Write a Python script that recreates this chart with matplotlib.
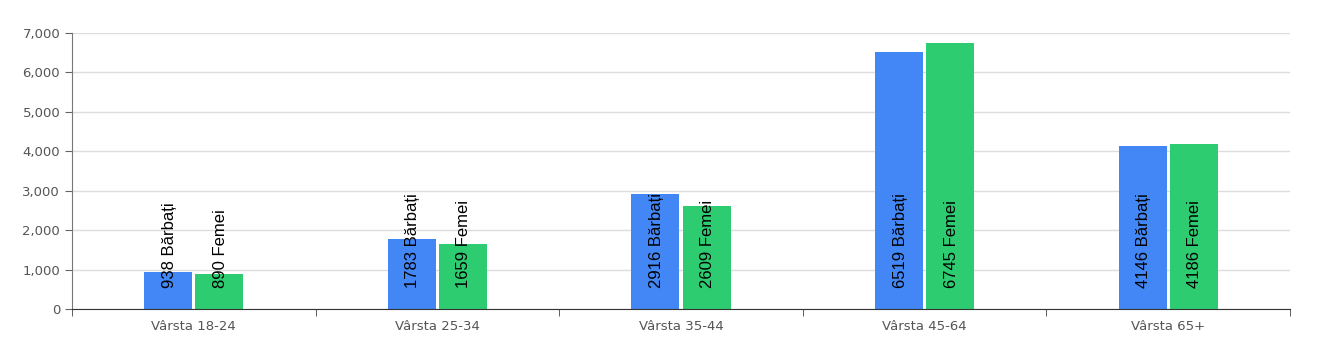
import numpy as np
from matplotlib import pyplot as plt

categorii = ["Vârsta 18-24", "Vârsta 25-34", "Vârsta 35-44", "Vârsta 45-64", "Vârsta 65+"]
barbati = [938, 1783, 2916, 6519, 4146]
femei = [890, 1659, 2609, 6745, 4186]

fig = plt.figure(figsize=(13.3, 3.47), dpi=100)
ax = fig.add_axes([72/1330, 1 - 309/347, (1290-72)/1330, (309-33)/347])

x = np.arange(len(categorii))
w = 0.197
b1 = ax.bar(x - 0.105, barbati, w, color="#4287f5", zorder=2)
b2 = ax.bar(x + 0.105, femei, w, color="#2ecc71", zorder=2)

for bars, vals, nume in ((b1, barbati, "Bărbați"), (b2, femei, "Femei")):
    for r, v in zip(bars, vals):
        ax.annotate(f"{v} {nume}", xy=(r.get_x() + r.get_width()/2, 0),
                    xytext=(1, 21), textcoords="offset pixels",
                    rotation=90, ha="center", va="bottom",
                    fontsize=12, family="Liberation Sans", color="black", zorder=3)

ax.set_xlim(-0.5, len(categorii) - 0.5)
ax.set_ylim(0, 7000)
ax.set_yticks(range(0, 7001, 1000))
ax.set_yticklabels([f"{t:,}" for t in range(0, 7001, 1000)])
ax.set_xticks(x)
ax.set_xticklabels(categorii)
ax.set_xticks(np.arange(-0.5, len(categorii)), minor=True)
ax.tick_params(axis="x", which="major", length=0, pad=8, labelsize=9.5, labelcolor="#555555")
ax.tick_params(axis="x", which="minor", length=5, color="#444444")
ax.tick_params(axis="y", length=5, color="#666666", labelsize=9.5, labelcolor="#555555")

ax.grid(axis="y", color="#dddddd", linewidth=1, zorder=0)
for s in ("top", "right"):
    ax.spines[s].set_visible(False)
ax.spines["left"].set_color("#777777")
ax.spines["bottom"].set_color("#333333")

fig.savefig("out.png", dpi=100)
